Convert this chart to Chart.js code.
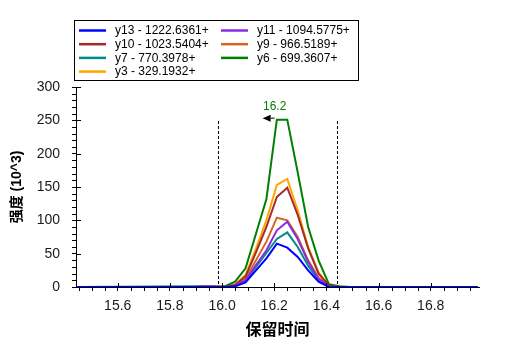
<!DOCTYPE html>
<html lang="zh">
<head>
<meta charset="UTF-8">
<title>XIC - 保留时间</title>
<script src="https://cdn.jsdelivr.net/npm/chart.js"></script>
<style>
  html, body { margin: 0; padding: 0; background: #fff; }
  #wrap { width: 507px; height: 351px; }
</style>
</head>
<body>
<div id="wrap"><canvas id="xicChart" width="507" height="351"></canvas></div>
<script>
// retention time (min)
const rt = [15.43, 15.89, 15.93, 15.97, 16.01, 16.05, 16.09, 16.13, 16.17, 16.21, 16.25, 16.29, 16.33, 16.37, 16.41, 16.45, 16.49, 16.98];

// intensity (10^3) per fragment ion
const y13 = [0, 0, 0, 0, 0, 1, 7, 25, 43, 65, 59, 45, 25, 8, 0, 0, 0, 0];
const y11 = [0, 0, 1, 1, 0, 2, 10, 33, 55, 85, 98, 72, 38, 12, 1, 0, 0, 0];
const y10 = [0, 0, 0, 0, 0, 3, 16, 52, 90, 135, 149, 108, 58, 20, 2, 0, 0, 0];
const y9  = [0, 0, 1, 1, 0, 2, 12, 40, 68, 104, 100, 75, 40, 14, 1, 0, 0, 0];
const y7  = [0, 1, 1, 0, 0, 2, 9, 30, 51, 72, 82, 60, 32, 10, 1, 0, 0, 0];
const y6  = [0, 0, 0, 0, 1, 8, 28, 80, 132, 251, 251, 172, 90, 40, 4, 1, 0, 0];
const y3  = [0, 0, 1, 0, 0, 4, 18, 58, 100, 153, 162, 115, 60, 22, 2, 0, 0, 0];

const seriesNames = ["y13 - 1222.6361+", "y11 - 1094.5775+", "y10 - 1023.5404+", "y9 - 966.5189+",
                     "y7 - 770.3978+", "y6 - 699.3607+", "y3 - 329.1932+"];
const seriesValues = [y13, y11, y10, y9, y7, y6, y3];
const seriesColors = ["#0000ff", "#8a2be2", "#a52a2a", "#d2691e", "#008b8b", "#008000", "#ffa500"];

// integration window and apex label
const windowStart = 15.986;
const windowEnd = 16.442;
const windowTop = 249;
const apexRT = 16.19;
const apexLabel = "16.2";

const FONT = "'Liberation Sans', Arial, 'Noto Sans CJK SC', sans-serif";

// two-column legend in a box above the plot
const boxLegend = {
    id: "boxLegend",
    afterDraw(chart) {
        const ctx = chart.ctx;
        ctx.save();
        ctx.strokeStyle = "#000";
        ctx.lineWidth = 1;
        ctx.strokeRect(74.5, 20.5, 284, 60);
        ctx.font = "12px " + FONT;
        ctx.textBaseline = "middle";
        ctx.fillStyle = "#000";
        chart.data.datasets.forEach(function (ds, i) {
            const col = i % 2, row = Math.floor(i / 2);
            const x0 = col === 0 ? 79 : 221;
            const y0 = 30.5 + row * 13.7;
            ctx.strokeStyle = ds.borderColor;
            ctx.lineWidth = 2.5;
            ctx.beginPath();
            ctx.moveTo(x0, y0);
            ctx.lineTo(x0 + 27, y0);
            ctx.stroke();
            ctx.fillText(ds.label, x0 + 36, y0 + 0.5);
        });
        ctx.restore();
    }
};

// minor ticks, inner halves of major ticks, window lines, apex marker
const decorations = {
    id: "decorations",
    afterDraw(chart) {
        const ctx = chart.ctx;
        const xs = chart.scales.x, ys = chart.scales.y;
        const area = chart.chartArea;
        ctx.save();
        ctx.strokeStyle = "#000";
        ctx.lineWidth = 1;
        ctx.beginPath();
        for (let k = Math.ceil(xs.min / 0.05); k * 0.05 <= xs.max; k++) {
            const px = Math.round(xs.getPixelForValue(k * 0.05)) + 0.5;
            if (k % 4 === 0) {
                ctx.moveTo(px, area.bottom - 4);
                ctx.lineTo(px, area.bottom);
            } else {
                ctx.moveTo(px, area.bottom);
                ctx.lineTo(px, area.bottom + 4);
            }
        }
        for (let v = 0; v <= ys.max; v += 10) {
            const py = Math.round(ys.getPixelForValue(v)) + 0.5;
            if (v % 50 === 0) {
                ctx.moveTo(area.left, py);
                ctx.lineTo(area.left + 5, py);
            } else {
                ctx.moveTo(area.left - 4, py);
                ctx.lineTo(area.left, py);
            }
        }
        ctx.stroke();

        // integration window
        ctx.setLineDash([3, 2]);
        ctx.beginPath();
        [windowStart, windowEnd].forEach(function (t) {
            const px = Math.round(xs.getPixelForValue(t)) + 0.5;
            ctx.moveTo(px, ys.getPixelForValue(windowTop));
            ctx.lineTo(px, area.bottom);
        });
        ctx.stroke();
        ctx.setLineDash([]);

        // apex label and arrow
        const ax = xs.getPixelForValue(apexRT);
        const ay = ys.getPixelForValue(Math.max.apply(null, y6));
        ctx.fillStyle = "#008000";
        ctx.font = "12px " + FONT;
        ctx.textAlign = "center";
        ctx.textBaseline = "middle";
        ctx.fillText(apexLabel, ax + 3, ay - 13);
        ctx.fillStyle = "#000";
        ctx.beginPath();
        ctx.moveTo(ax - 9, ay - 1.5);
        ctx.lineTo(ax - 1, ay - 5);
        ctx.lineTo(ax - 1, ay + 2);
        ctx.closePath();
        ctx.fill();
        ctx.beginPath();
        ctx.moveTo(ax - 1, ay - 1.5);
        ctx.lineTo(ax + 3, ay - 1.5);
        ctx.stroke();
        ctx.restore();
    }
};

document.addEventListener("DOMContentLoaded", function () {
    const datasets = seriesValues.map(function (vals, i) {
        return {
            label: seriesNames[i],
            data: rt.map(function (t, j) { return { x: t, y: vals[j] }; }),
            borderColor: seriesColors[i],
            backgroundColor: seriesColors[i],
            borderWidth: 2,
            pointRadius: 0,
            tension: 0,
            fill: false
        };
    });

    new Chart(document.getElementById("xicChart"), {
        type: "line",
        data: { datasets: datasets },
        options: {
            responsive: false,
            animation: false,
            events: [],
            layout: { padding: { left: 0, top: 87, right: 28, bottom: 0 } },
            plugins: {
                legend: { display: false },
                tooltip: { enabled: false }
            },
            scales: {
                x: {
                    type: "linear",
                    min: 15.44,
                    max: 16.985,
                    afterFit: function (s) { s.height = 64; },
                    ticks: {
                        stepSize: 0.2,
                        includeBounds: false,
                        autoSkip: false,
                        maxRotation: 0,
                        padding: 7,
                        color: "#1a1a1a",
                        font: { size: 14, family: FONT },
                        callback: function (v) { return v.toFixed(1); }
                    },
                    grid: { drawOnChartArea: false, tickLength: 4, color: "#000" },
                    border: { color: "#000", width: 1 },
                    title: {
                        display: true,
                        text: "保留时间",
                        color: "#000",
                        padding: { top: 0, bottom: 11 },
                        font: { size: 16, weight: "bold", family: FONT }
                    }
                },
                y: {
                    min: 0,
                    max: 300,
                    afterFit: function (s) { s.width = 76; },
                    ticks: {
                        stepSize: 50,
                        padding: 12,
                        color: "#1a1a1a",
                        font: { size: 14, family: FONT }
                    },
                    grid: { drawOnChartArea: false, tickLength: 4, color: "#000" },
                    border: { color: "#000", width: 1 },
                    title: {
                        display: true,
                        text: "强度 (10^3)",
                        color: "#000",
                        padding: { top: 9, bottom: 0 },
                        font: { size: 14, weight: "bold", family: FONT }
                    }
                }
            }
        },
        plugins: [boxLegend, decorations]
    });
});
</script>
</body>
</html>
